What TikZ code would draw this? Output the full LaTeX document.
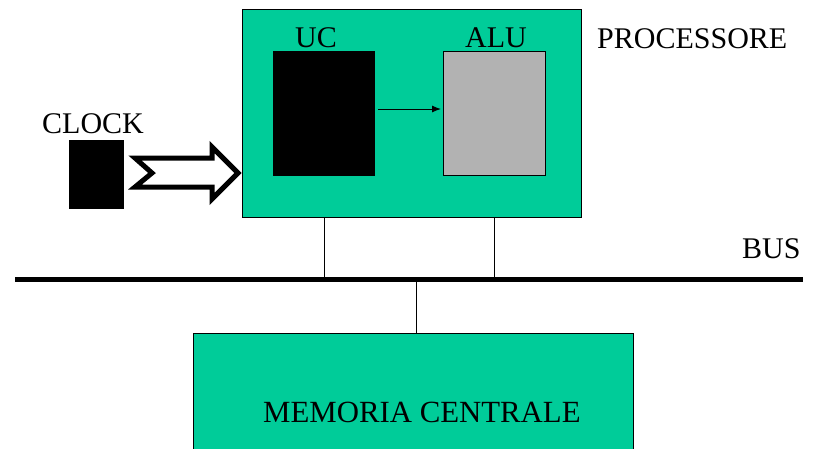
\documentclass[tikz,border=0pt]{standalone}
\usepackage{fontspec}
\setmainfont{Liberation Serif}
\usetikzlibrary{arrows.meta}
\definecolor{procgreen}{RGB}{0,204,153}
\definecolor{alugray}{RGB}{178,178,178}
\begin{document}
\begin{tikzpicture}[x=1pt,y=-1pt,
  lbl/.style={inner sep=0pt,anchor=base west,font=\fontsize{30}{34}\selectfont},
  box/.style={draw=black,line width=1pt},
  wire/.style={draw=black,line width=0.8pt}]
\useasboundingbox (0,0) rectangle (818,448);
% processor
\path[box,fill=procgreen] (242,9) rectangle (581,217);
\coordinate (procS1) at (324,217);
\coordinate (procS2) at (494,217);
% UC and ALU
\path[box,fill=black] (273,51) rectangle (374,175);
\coordinate (ucE) at (378,109);
\path[box,fill=alugray] (443,51) rectangle (545,175);
\coordinate (aluW) at (441,109);
\draw[line width=1pt,-{Latex[length=9pt,width=7pt]}] (ucE) -- (aluW);
% labels
\node[lbl] (uc) at (295,47) {UC};
\node[lbl] (alu) at (465,47) {ALU};
\node[lbl] (proclbl) at (597,48) {PROCESSORE};
\node[lbl] (clocklbl) at (42,133) {CLOCK};
\node[lbl] (buslbl) at (742,258) {BUS};
% clock
\path[fill=black] (69,140) rectangle (124,209);
% hollow arrow
\draw[line width=5pt,line join=miter,fill=white] (135,158) -- (212,158) -- (212,147) -- (238,173) -- (212,199) -- (212,187) -- (135,187) -- (152,173) -- cycle;
% bus
\coordinate (busL) at (15,279.5);
\coordinate (busR) at (803,279.5);
\draw[line width=4.5pt] (busL) -- (busR);
\coordinate (bus1) at (324,279.5);
\coordinate (bus2) at (494,279.5);
\coordinate (bus3) at (416,279.5);
\draw[wire] (procS1) -- (bus1);
\draw[wire] (procS2) -- (bus2);
% memory
\path[box,fill=procgreen] (193,333) rectangle (633,460);
\coordinate (memN) at (416,333);
\draw[wire] (bus3) -- (memN);
\node[lbl,font=\fontsize{30.8}{34}\selectfont] (mem) at (263,422) {MEMORIA CENTRALE};
\end{tikzpicture}
\end{document}
